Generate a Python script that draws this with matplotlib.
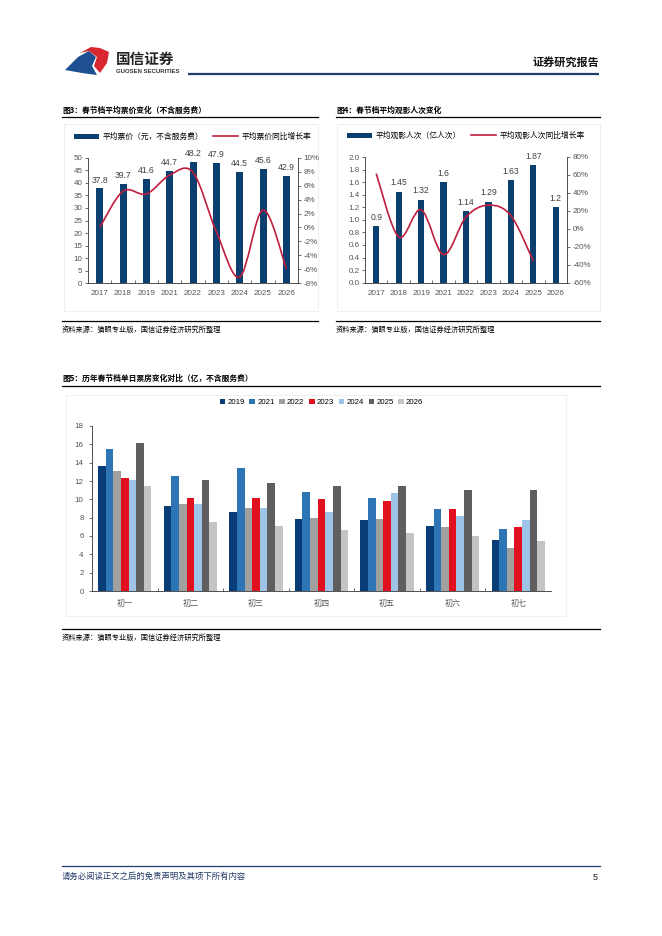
import numpy as np
import matplotlib
matplotlib.use('Agg')
import matplotlib.pyplot as plt
from matplotlib.path import Path
from matplotlib.patches import PathPatch, Rectangle, Polygon
from matplotlib.lines import Line2D

plt.rcParams['font.family'] = ['Liberation Sans', 'Noto Sans CJK SC', 'DejaVu Sans']
plt.rcParams['axes.unicode_minus'] = False

# chart 3 / chart 4 data
years = ['2017', '2018', '2019', '2021', '2022', '2023', '2024', '2025', '2026']
price = [37.8, 39.7, 41.6, 44.7, 48.2, 47.9, 44.5, 45.6, 42.9]
price_growth = [0.0, 5.2, 4.8, 7.5, 7.9, -0.6, -7.1, 2.5, -5.9]
viewers = [0.9, 1.45, 1.32, 1.6, 1.14, 1.29, 1.63, 1.87, 1.2]
viewers_growth = [61.5, -9.0, 21.2, -28.8, 13.2, 26.4, 14.7, -35.8]

# chart 5 data
days = ['初一', '初二', '初三', '初四', '初五', '初六', '初七']
series_years = ['2019', '2021', '2022', '2023', '2024', '2025', '2026']
daily = {
    '2019': [13.6, 9.3, 8.6, 7.9, 7.7, 7.1, 5.6],
    '2021': [15.5, 12.6, 13.4, 10.8, 10.1, 8.9, 6.8],
    '2022': [13.1, 9.5, 9.1, 8.0, 7.9, 7.0, 4.7],
    '2023': [12.3, 10.1, 10.2, 10.0, 9.8, 8.9, 7.0],
    '2024': [12.1, 9.5, 9.1, 8.6, 10.7, 8.2, 7.8],
    '2025': [16.1, 12.1, 11.8, 11.4, 11.4, 11.0, 11.0],
    '2026': [11.4, 7.5, 7.1, 6.7, 6.3, 6.0, 5.5],
}
series_colors = ['#083d77', '#2e75b6', '#a0a0a0', '#e0101e', '#9dc3e6', '#5f5f5f', '#c4c4c4']

NAVY = '#0b3f6f'
RED = '#bf1e3c'
TICK = '#555555'
W, H = 662, 936
CJK = ['Noto Sans CJK SC', 'DejaVu Sans']


def smooth_path(xs, ys):
    # catmull-rom style bezier, like excel's smoothed line
    pts = np.column_stack([xs, ys]).astype(float)
    n = len(pts)
    verts = [pts[0]]
    codes = [Path.MOVETO]
    for i in range(n - 1):
        p0 = pts[i - 1] if i > 0 else pts[i]
        p1 = pts[i]
        p2 = pts[i + 1]
        p3 = pts[i + 2] if i + 2 < n else pts[i + 1]
        c1 = p1 + (p2 - p0) / 6.0
        c2 = p2 - (p3 - p1) / 6.0
        verts += [c1, c2, p2]
        codes += [Path.CURVE4] * 3
    return Path(verts, codes)


def fax(x0, y0, x1, y1):
    return fig.add_axes([x0 / W, 1 - y1 / H, (x1 - x0) / W, (y1 - y0) / H])


def style_axis(ax):
    for s in ['top', 'right']:
        ax.spines[s].set_visible(False)
    for s in ['left', 'bottom']:
        ax.spines[s].set_color('#333333')
        ax.spines[s].set_linewidth(0.6)
    ax.tick_params(axis='y', labelsize=5.8, colors='#333333', labelcolor=TICK,
                   length=2, width=0.5, pad=2)
    ax.tick_params(axis='x', labelsize=5.8, labelcolor=TICK, length=0, pad=5)
    ax.set_facecolor('none')


def style_right(ax):
    for s in ['top', 'left', 'bottom']:
        ax.spines[s].set_visible(False)
    ax.spines['right'].set_color('#333333')
    ax.spines['right'].set_linewidth(0.6)
    ax.tick_params(axis='y', labelsize=5.8, colors='#333333', labelcolor=TICK, length=2, width=0.5, pad=2)


fig = plt.figure(figsize=(W / 100, H / 100), dpi=100)

# page overlay in pixel coordinates
page = fig.add_axes([0, 0, 1, 1])
page.set_xlim(0, W)
page.set_ylim(H, 0)
page.axis('off')

# logo
page.add_patch(Polygon([(65, 70), (78, 57), (89, 51), (96, 57), (92, 66), (97, 75), (82, 73)],
                       closed=True, color='#1d4f91', lw=0))
page.add_patch(Polygon([(80, 53), (91, 47), (100, 48), (109, 52), (107, 63), (100, 73), (94, 66), (97, 57), (89, 51)],
                       closed=True, color='#d7282f', lw=0))
page.text(116, 59, '国信证券', fontsize=10.5, fontweight='bold', color='#222222', va='center', family=CJK)
page.text(116, 71.5, 'GUOSEN SECURITIES', fontsize=4.3, fontweight='bold', color='#333333', va='center')
page.plot([188, 599], [74, 74], color='#1f3e6e', lw=1.6, solid_capstyle='butt')
page.text(599, 62, '证券研究报告', fontsize=8, fontweight='bold', color='#111111', ha='right', va='center',
          family=CJK)

# titles, rules, sources
page.text(62, 110, '图3：春节档平均票价变化（不含服务费）', fontsize=5.6, fontweight='bold', va='center', family=CJK)
page.text(336, 110, '图4：春节档平均观影人次变化', fontsize=5.6, fontweight='bold', va='center', family=CJK)
for (x0, x1, y) in [(62, 318, 117), (336, 600, 117), (62, 318, 321), (336, 600, 321),
                    (62, 600, 386), (62, 600, 629)]:
    page.plot([x0, x1], [y, y], color='black', lw=0.9)
src = '资料来源：猫眼专业版，国信证券经济研究所整理'
page.text(62, 330, src, fontsize=5.2, va='center', family=CJK)
page.text(336, 330, src, fontsize=5.2, va='center', family=CJK)
page.text(62, 378, '图5：历年春节档单日票房变化对比（亿，不含服务费）', fontsize=5.6, fontweight='bold',
          va='center', family=CJK)
page.text(62, 638, src, fontsize=5.2, va='center', family=CJK)

# faint chart panels
for (x0, y0, x1, y1) in [(64, 124, 318, 311), (337, 124, 600, 311), (66, 395, 566, 616)]:
    page.add_patch(Rectangle((x0, y0), x1 - x0, y1 - y0, fill=False, ec='#f0f0f0', lw=0.8))

# footer
page.plot([62, 600], [866, 866], color='#1f3e6e', lw=0.9)
page.text(62, 876, '请务必阅读正文之后的免责声明及其项下所有内容', fontsize=6, style='italic', color='#1f3864',
          va='center', family=CJK)
page.text(598, 877, '5', fontsize=6.5, ha='right', va='center', color='#222222')

x = np.arange(len(years))
h_line = Line2D([], [], color=RED, lw=1.2)
leg_kw = dict(ncol=2, loc='lower center', bbox_to_anchor=(0.5, 1.11), frameon=False, fontsize=5.6,
              handlelength=3.2, handleheight=0.6, columnspacing=1.2, handletextpad=0.5, borderaxespad=0)

# ---- chart 3
ax3 = fax(88, 157.7, 298, 283.3)
style_axis(ax3)
b3 = ax3.bar(x, price, width=0.3, color=NAVY)
ax3.set_ylim(0, 50)
ax3.set_yticks(range(0, 51, 5))
ax3.set_xlim(-0.5, len(years) - 0.5)
ax3.set_xticks(x)
ax3.set_xticklabels(years)
for xi, v in zip(x, price):
    ax3.text(xi, v + 1.5, '%.1f' % v, ha='center', va='bottom', fontsize=6.2, color='#404040')
ax3r = ax3.twinx()
ax3r.set_ylim(-8, 10)
ax3r.set_yticks(range(-8, 11, 2))
ax3r.set_yticklabels(['%d%%' % t for t in range(-8, 11, 2)])
style_right(ax3r)
ax3r.add_patch(PathPatch(smooth_path(x, price_growth), fill=False, ec=RED, lw=1.2))
ax3.legend([b3, h_line], ['平均票价（元，不含服务费）', '平均票价同比增长率'], **leg_kw)

# ---- chart 4
ax4 = fax(365, 157, 567, 282.7)
style_axis(ax4)
b4 = ax4.bar(x, viewers, width=0.28, color=NAVY)
ax4.set_ylim(0, 2.0)
ax4.set_yticks(np.arange(0, 2.01, 0.2))
ax4.set_yticklabels(['%.1f' % t for t in np.arange(0, 2.01, 0.2)])
ax4.set_xlim(-0.5, len(years) - 0.5)
ax4.set_xticks(x)
ax4.set_xticklabels(years)
for xi, v in zip(x, viewers):
    ax4.text(xi, v + 0.07, ('%.2f' % v).rstrip('0').rstrip('.'), ha='center', va='bottom',
             fontsize=6.2, color='#404040')
ax4r = ax4.twinx()
ax4r.set_ylim(-60, 80)
ax4r.set_yticks(range(-60, 81, 20))
ax4r.set_yticklabels(['%d%%' % t for t in range(-60, 81, 20)])
style_right(ax4r)
ax4r.add_patch(PathPatch(smooth_path(x[:len(viewers_growth)], viewers_growth), fill=False, ec=RED, lw=1.2))
ax4.legend([b4, h_line], ['平均观影人次（亿人次）', '平均观影人次同比增长率'], **leg_kw)

for a in (ax3, ax4):
    a.set_xticks(np.arange(0.5, len(years) - 1, 1), minor=True)
    a.tick_params(axis='x', which='minor', direction='in', length=2, width=0.5, colors='#333333')

# ---- chart 5
ax5 = fax(92, 426, 551, 591)
style_axis(ax5)
gx = np.arange(len(days))
bw = 0.116
for k, (yr, col) in enumerate(zip(series_years, series_colors)):
    ax5.bar(gx + (k - 3) * bw, daily[yr], width=bw, color=col, label=yr)
ax5.set_ylim(0, 18)
ax5.set_yticks(range(0, 19, 2))
ax5.set_xlim(-0.5, len(days) - 0.5)
ax5.set_xticks(gx)
ax5.set_xticklabels(days, family=CJK)
ax5.tick_params(axis='x', labelsize=5.8, pad=6)
ax5.tick_params(axis='y', pad=4)
ax5.set_xticks(np.arange(0.5, len(days) - 1, 1), minor=True)
ax5.tick_params(axis='x', which='minor', direction='in', length=2, width=0.5, colors='#333333')
ax5.legend(ncol=7, loc='lower center', bbox_to_anchor=(0.5, 1.1), frameon=False, fontsize=5.6,
           handlelength=0.7, handleheight=0.7, columnspacing=0.6, handletextpad=0.3, borderaxespad=0)

fig.savefig('out.png', dpi=100)
